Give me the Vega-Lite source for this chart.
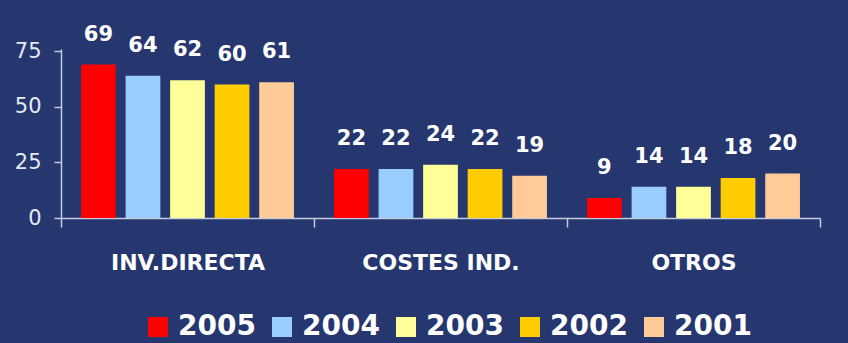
{
  "$schema": "https://vega.github.io/schema/vega-lite/v6.json",
  "width": 759,
  "height": 169,
  "autosize": {"type": "none"},
  "padding": {"left": 61, "top": 49, "right": 28, "bottom": 125},
  "background": "#26366f",
  "config": {
    "font": "DejaVu Sans",
    "view": {"stroke": null}
  },
  "data": {
    "values": [
      {"categoria": "INV.DIRECTA", "anio": "2005", "valor": 69},
      {"categoria": "INV.DIRECTA", "anio": "2004", "valor": 64},
      {"categoria": "INV.DIRECTA", "anio": "2003", "valor": 62},
      {"categoria": "INV.DIRECTA", "anio": "2002", "valor": 60},
      {"categoria": "INV.DIRECTA", "anio": "2001", "valor": 61},
      {"categoria": "COSTES IND.", "anio": "2005", "valor": 22},
      {"categoria": "COSTES IND.", "anio": "2004", "valor": 22},
      {"categoria": "COSTES IND.", "anio": "2003", "valor": 24},
      {"categoria": "COSTES IND.", "anio": "2002", "valor": 22},
      {"categoria": "COSTES IND.", "anio": "2001", "valor": 19},
      {"categoria": "OTROS", "anio": "2005", "valor": 9},
      {"categoria": "OTROS", "anio": "2004", "valor": 14},
      {"categoria": "OTROS", "anio": "2003", "valor": 14},
      {"categoria": "OTROS", "anio": "2002", "valor": 18},
      {"categoria": "OTROS", "anio": "2001", "valor": 20}
    ]
  },
  "encoding": {
    "x": {
      "field": "categoria",
      "type": "nominal",
      "sort": ["INV.DIRECTA", "COSTES IND.", "OTROS"],
      "scale": {"paddingInner": 0, "paddingOuter": 0},
      "axis": {
        "title": null,
        "labelAngle": 0,
        "labelFontSize": 22,
        "labelFontWeight": "bold",
        "labelColor": "#ffffff",
        "labelPadding": 25,
        "tickBand": "extent",
        "tickSize": 9,
        "tickColor": "#c4cce0",
        "domainColor": "#c4cce0",
        "domainWidth": 1.5,
        "tickWidth": 1.5
      }
    },
    "xOffset": {
      "field": "anio",
      "type": "nominal",
      "sort": ["2005", "2004", "2003", "2002", "2001"],
      "scale": {"paddingInner": 0.22, "paddingOuter": 0.45}
    },
    "y": {
      "field": "valor",
      "type": "quantitative",
      "scale": {"domain": [0, 76]},
      "axis": {
        "title": null,
        "grid": false,
        "values": [0, 25, 50, 75],
        "labelFontSize": 21,
        "labelColor": "#e4eaf2",
        "labelPadding": 13,
        "tickSize": 7,
        "tickColor": "#c4cce0",
        "domainColor": "#c4cce0",
        "domainWidth": 1.5,
        "tickWidth": 1.5
      }
    }
  },
  "layer": [
    {
      "mark": {"type": "bar"},
      "encoding": {
        "color": {
          "field": "anio",
          "type": "nominal",
          "scale": {
            "domain": ["2005", "2004", "2003", "2002", "2001"],
            "range": ["#ff0000", "#99ccff", "#ffff99", "#ffcc00", "#ffcc99"]
          },
          "legend": {
            "title": null,
            "orient": "none",
            "legendX": 83,
            "legendY": 264,
            "direction": "horizontal",
            "symbolType": "square",
            "symbolSize": 400,
            "symbolStrokeWidth": 0,
            "symbolOpacity": 1,
            "labelFontSize": 28,
            "labelFontWeight": "bold",
            "labelColor": "#ffffff",
            "labelOffset": 6,
            "columnPadding": 12
          }
        }
      }
    },
    {
      "mark": {
        "type": "text",
        "baseline": "bottom",
        "dy": -20,
        "fontSize": 21,
        "fontWeight": "bold",
        "color": "#ffffff"
      },
      "encoding": {
        "text": {"field": "valor", "type": "quantitative"}
      }
    }
  ]
}
